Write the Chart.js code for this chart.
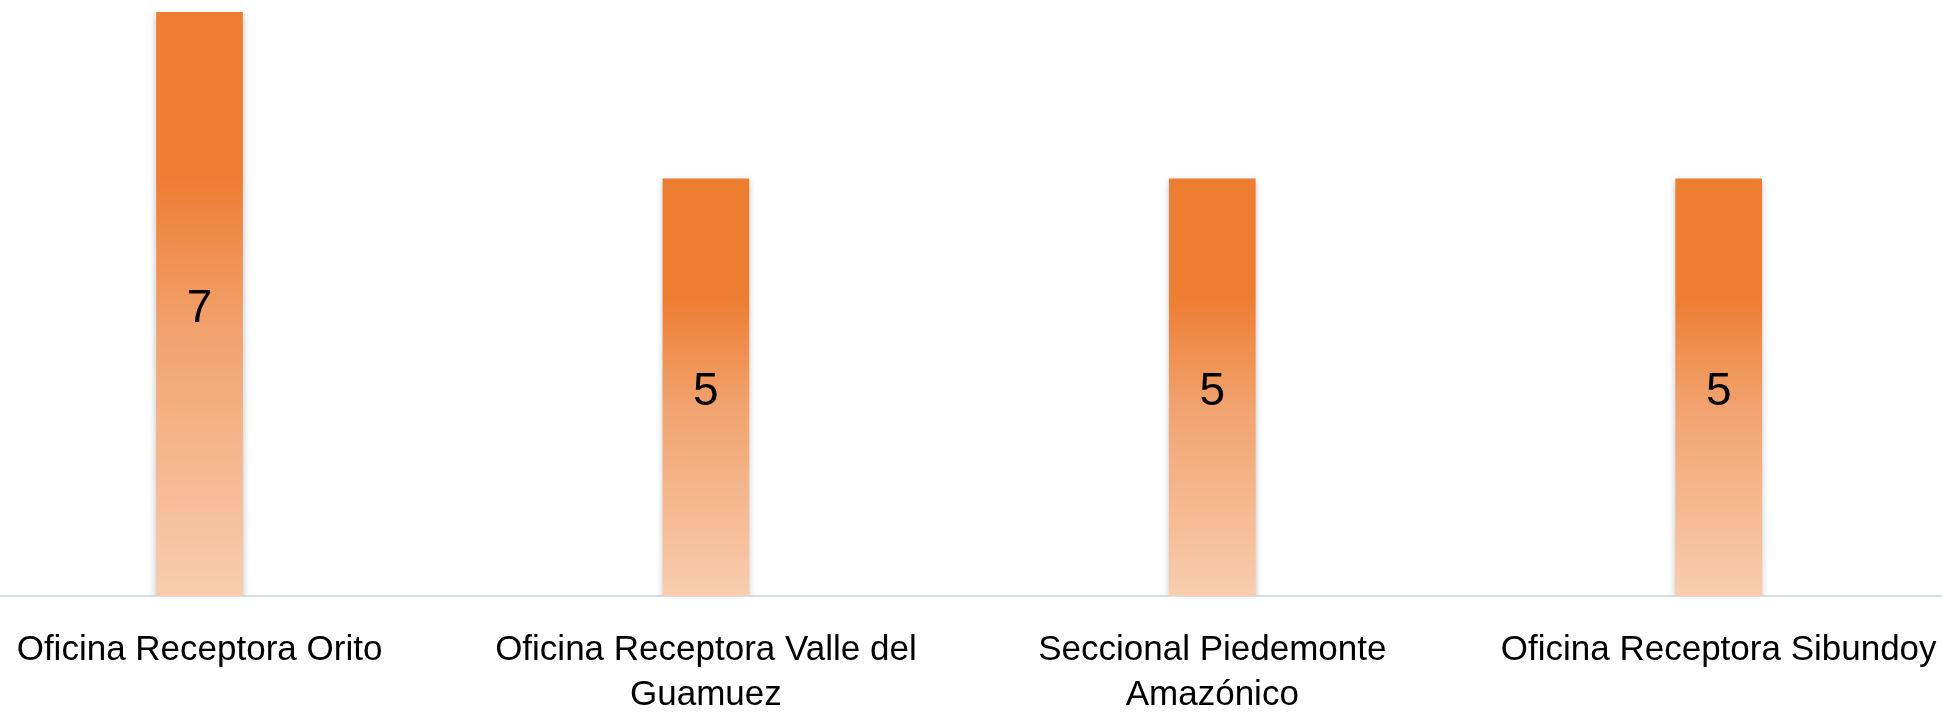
<!DOCTYPE html>
<html>
<head>
<meta charset="utf-8">
<script src="https://cdn.jsdelivr.net/npm/chart.js@4/dist/chart.umd.min.js"></script>
<style>
  html, body { margin: 0; padding: 0; background: #fff; }
  #wrap { width: 1942px; height: 715px; }
</style>
</head>
<body>
<div id="wrap"><canvas id="oficinas_chart"></canvas></div>
<script>
// categorias (split into label lines like the original)
const categories = [
  ['Oficina Receptora Orito'],
  ['Oficina Receptora Valle del', 'Guamuez'],
  ['Seccional Piedemonte', 'Amazónico'],
  ['Oficina Receptora Sibundoy'],
]
const values = [7, 5, 5, 5]

const FONT = '"Liberation Sans Narrow", "Liberation Sans", Arial, sans-serif'

// bar gradient, per bar, solid orange on top fading to peach
const barFill = (ctx) => {
  const chart = ctx.chart
  if (!chart.chartArea || ctx.dataIndex === undefined) return '#ED7D31'
  const y = chart.scales.y
  const top = y.getPixelForValue(values[ctx.dataIndex])
  const bottom = y.getPixelForValue(0)
  const g = chart.ctx.createLinearGradient(0, top, 0, bottom)
  g.addColorStop(0, '#ED7D31')
  g.addColorStop(0.28, '#ED7D31')
  g.addColorStop(0.55, '#F1A36F')
  g.addColorStop(1, '#F8CDAF')
  return g
}

const barShadow = {
  id: 'barShadow',
  beforeDatasetsDraw(chart) {
    const c = chart.ctx
    c.save()
    c.shadowColor = 'rgba(0,0,0,0.28)'
    c.shadowBlur = 7
    c.shadowOffsetY = 2
  },
  afterDatasetsDraw(chart) {
    chart.ctx.restore()
  },
}

const valueLabels = {
  id: 'valueLabels',
  afterDatasetsDraw(chart) {
    const c = chart.ctx
    const meta = chart.getDatasetMeta(0)
    c.save()
    c.font = '46px ' + FONT
    c.fillStyle = '#000'
    c.textAlign = 'center'
    c.textBaseline = 'middle'
    meta.data.forEach((bar, i) => {
      c.fillText(String(values[i]), bar.x, (bar.y + bar.base) / 2 + 5)
    })
    c.restore()
  },
}

new Chart(document.getElementById('oficinas_chart').getContext('2d'), {
  type: 'bar',
  data: {
    datasets: [
      {
        data: values.map((v, i) => ({ x: i, y: v })),
        backgroundColor: barFill,
        borderWidth: 0,
        barThickness: 86,
      },
    ],
  },
  options: {
    responsive: true,
    maintainAspectRatio: false,
    animation: false,
    layout: { padding: { top: 12, left: 0, right: 0, bottom: 0 } },
    plugins: {
      legend: { display: false },
      tooltip: { enabled: false },
    },
    scales: {
      x: {
        type: 'linear',
        offset: false,
        min: -0.394,
        max: 3.441,
        grid: { display: false, drawTicks: false },
        border: { display: true, color: '#D9DEE6', width: 2 },
        afterFit: (scale) => {
          scale.height = 119
          // axis line runs the full width, labels may touch the edges
          scale.paddingLeft = 0
          scale.paddingRight = 0
        },
        ticks: {
          stepSize: 1,
          includeBounds: false,
          autoSkip: false,
          maxRotation: 0,
          padding: 31,
          color: '#000',
          font: { family: FONT, size: 35, lineHeight: 1.31 },
          callback: (v) => (Number.isInteger(v) && categories[v] ? categories[v] : ''),
        },
      },
      y: {
        display: false,
        min: 0,
        max: 7,
      },
    },
  },
  plugins: [barShadow, valueLabels],
})
</script>
</body>
</html>
